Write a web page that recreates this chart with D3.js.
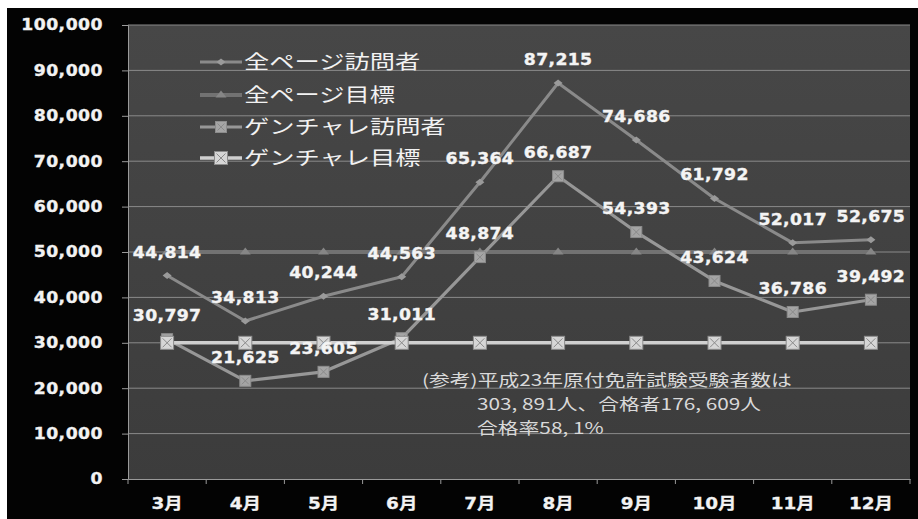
<!DOCTYPE html>
<html><head><meta charset="utf-8">
<script src="https://cdn.jsdelivr.net/npm/d3@7"></script>
<style>
html,body{margin:0;padding:0;background:#fff;}
svg{display:block;}
</style></head>
<body>
<svg id="chart" width="918" height="519"></svg>
<script>
const months = ["3月","4月","5月","6月","7月","8月","9月","10月","11月","12月"];
const totalVisitors = [44814, 34813, 40244, 44563, 65364, 87215, 74686, 61792, 52017, 52675];
const totalGoal = [50000, 50000, 50000, 50000, 50000, 50000, 50000, 50000, 50000, 50000];
const genVisitors = [30797, 21625, 23605, 31011, 48874, 66687, 54393, 43624, 36786, 39492];
const genGoal = [30000, 30000, 30000, 30000, 30000, 30000, 30000, 30000, 30000, 30000];
const seriesNames = ["全ページ訪問者", "全ページ目標", "ゲンチャレ訪問者", "ゲンチャレ目標"];
const yTicks = [0, 10000, 20000, 30000, 40000, 50000, 60000, 70000, 80000, 90000, 100000];
const noteLines = ["(参考)平成23年原付免許試験受験者数は", "303, 891人、合格者176, 609人", "合格率58, 1%"];

const svg = d3.select("#chart");
const W = 918, H = 519;
const L = 128, R = 910, T = 25, B = 479;
const SX = 1.15;

// outer background
svg.append("rect").attr("x", 7).attr("y", 8).attr("width", W - 7).attr("height", H - 8).attr("fill", "#030303");

const x = d3.scaleBand().domain(months).range([L, R]);
const y = d3.scaleLinear().domain([0, 100000]).range([B, T]);

// plot area
const grad = svg.append("defs").append("linearGradient").attr("id", "pg").attr("x1", 0).attr("y1", 0).attr("x2", 0).attr("y2", 1);
grad.append("stop").attr("offset", "0%").attr("stop-color", "#474747");
grad.append("stop").attr("offset", "100%").attr("stop-color", "#3c3c3c");
svg.append("rect").attr("x", L).attr("y", T).attr("width", R - L).attr("height", B - T).attr("fill", "url(#pg)");

// gridlines
svg.append("g").selectAll("line").data(yTicks.filter(d => d > 0)).join("line")
  .attr("x1", L).attr("x2", R).attr("y1", d => y(d)).attr("y2", d => y(d))
  .attr("stroke", "#8a8a8a").attr("stroke-width", 1);

// y axis
const yAxis = svg.append("g").attr("transform", `translate(${L},0)`)
  .call(d3.axisLeft(y).tickValues(yTicks).tickFormat(d3.format(",")).tickSize(6).tickPadding(19));
yAxis.select(".domain").attr("stroke", "#9a9a9a");
yAxis.selectAll(".tick line").attr("stroke", "#9a9a9a");
yAxis.selectAll("text").attr("fill", "#f2f2f2").attr("font-family", "DejaVu Sans, sans-serif")
  .attr("font-weight", "bold").attr("font-size", 15)
  .attr("stroke", "#f2f2f2").attr("stroke-width", 0.35)
  .attr("x", -(6 + 19) / SX).attr("transform", `scale(${SX},1)`).style("letter-spacing", "0.4px");

// x axis
const xAxis = svg.append("g").attr("transform", `translate(0,${B})`)
  .call(d3.axisBottom(x).tickSize(0).tickPadding(19));
xAxis.select(".domain").attr("stroke", "#9a9a9a");
xAxis.selectAll("text").attr("fill", "#f2f2f2").attr("font-family", "DejaVu Sans, 'Noto Sans CJK JP', sans-serif")
  .attr("font-weight", "bold").attr("font-size", 16)
  .attr("stroke", "#f2f2f2").attr("stroke-width", 0.3)
  .each(function() {
    const t = d3.select(this);
    const xx = +t.attr("x") || 0;
    t.attr("x", xx / SX);
  });
xAxis.selectAll(".tick").each(function() {
  const tr = d3.select(this).attr("transform");
  const m = /translate\(([-\d.]+),([-\d.]+)\)/.exec(tr);
  d3.select(this).attr("transform", `translate(${m[1]},${m[2]}) scale(${SX},1)`);
});
const bounds = months.map(m => x(m)).concat([x.range()[1]]);
svg.append("g").selectAll("line").data(bounds).join("line")
  .attr("x1", d => d).attr("x2", d => d).attr("y1", B).attr("y2", B + 5)
  .attr("stroke", "#9a9a9a");

const cx = m => x(m) + x.bandwidth() / 2;

const styles = [
  {data: totalVisitors, color: "#8a8a8a", width: 3, marker: "diamond", msize: 7, mfill: "#9a9a9a"},
  {data: totalGoal, color: "#727272", width: 4, marker: "triangle", msize: 7, mfill: "#868686"},
  {data: genVisitors, color: "#979797", width: 3.2, marker: "square", msize: 11, mfill: "#a5a5a5"},
  {data: genGoal, color: "#cfcfcf", width: 3.5, marker: "square", msize: 13, mfill: "#d6d6d6"}
];

function drawMarker(g, type, size, fill, px, py) {
  const h = size / 2;
  if (type === "square") {
    g.append("rect").attr("x", px - h).attr("y", py - h).attr("width", size).attr("height", size)
      .attr("fill", fill).attr("stroke", "#8c8c8c").attr("stroke-width", 1);
    g.append("path").attr("d", `M${px - h + 2},${py - h + 2}L${px + h - 2},${py + h - 2}M${px + h - 2},${py - h + 2}L${px - h + 2},${py + h - 2}`)
      .attr("stroke", "#8a8a8a").attr("stroke-width", 1);
  } else if (type === "diamond") {
    g.append("path").attr("d", `M${px},${py - h}L${px + h + 1},${py}L${px},${py + h}L${px - h - 1},${py}Z`).attr("fill", fill);
  } else {
    g.append("path").attr("d", `M${px},${py - h - 1}L${px + h + 2},${py + h - 1}L${px - h - 2},${py + h - 1}Z`).attr("fill", fill);
  }
}

styles.forEach((s, i) => {
  const line = d3.line().x((d, j) => cx(months[j])).y(d => y(d));
  svg.append("path").datum(s.data).attr("d", line).attr("fill", "none")
    .attr("stroke", s.color).attr("stroke-width", s.width).attr("stroke-linejoin", "round");
  const g = svg.append("g");
  s.data.forEach((d, j) => drawMarker(g, s.marker, s.msize, s.mfill, cx(months[j]), y(d)));
});

// data labels
[totalVisitors, genVisitors].forEach(arr => {
  svg.append("g").selectAll("text").data(arr).join("text")
    .attr("transform", (d, j) => `translate(${cx(months[j])},${y(d) - 18}) scale(${SX},1)`)
    .attr("text-anchor", "middle").attr("fill", "#f4f4f4")
    .attr("stroke", "#f4f4f4").attr("stroke-width", 0.35)
    .attr("font-family", "DejaVu Sans, sans-serif").attr("font-weight", "bold").attr("font-size", 15)
    .style("letter-spacing", "0.3px")
    .text(d => d3.format(",")(d));
});

// legend
const legY = [62, 95, 127, 158];
seriesNames.forEach((name, i) => {
  const s = styles[i];
  const g = svg.append("g");
  g.append("line").attr("x1", 200).attr("x2", 242).attr("y1", legY[i]).attr("y2", legY[i])
    .attr("stroke", s.color).attr("stroke-width", s.width);
  drawMarker(g, s.marker, s.msize, s.mfill, 221, legY[i]);
  g.append("text").attr("transform", `translate(244,${legY[i] + 7}) scale(1.33,1)`)
    .attr("fill", "#f2f2f2").attr("font-family", "'Noto Sans CJK JP', sans-serif").attr("font-size", 19)
    .text(name);
});

// note
const noteX = [422, 477, 477];
const noteY = [386, 410, 434];
noteLines.forEach((t, i) => {
  svg.append("text").attr("transform", `translate(${noteX[i]},${noteY[i]}) scale(1.3,1)`)
    .attr("fill", "#d9d9d9").attr("font-family", "'Noto Sans CJK JP', sans-serif").attr("font-size", 16)
    .text(t);
});
</script>
</body></html>
